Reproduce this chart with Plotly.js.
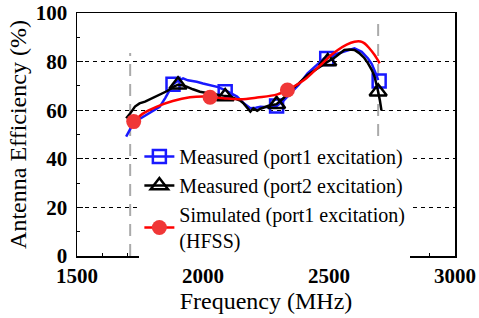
<!DOCTYPE html>
<html>
<head>
<meta charset="utf-8">
<script src="https://cdn.plot.ly/plotly-3.0.1.min.js"></script>
<style>html,body{margin:0;padding:0;background:#fff;}#chart{width:479px;height:318px;}</style>
</head>
<body>
<div id="chart"></div>
<script>
// Measured, port1 excitation (blue)
const p1Freq = [1695, 1708, 1725, 1750, 1775, 1800, 1828, 1850, 1868, 1881, 1900, 1921, 1940, 1960, 1975, 2000, 2028, 2060, 2088, 2110, 2135, 2160, 2188, 2210, 2228, 2260, 2292, 2320, 2348, 2380, 2415, 2450, 2481, 2510, 2535, 2570, 2601, 2630, 2655, 2670, 2681, 2690, 2695];
const p1Eff  = [49.1, 51.9, 54.9, 56.5, 58.0, 59.5, 61.4, 65.0, 68.3, 70.7, 72.0, 73.1, 72.3, 72.0, 71.7, 71.0, 70.4, 69.5, 68.3, 67.0, 65.6, 63.0, 60.8, 61.0, 61.4, 61.2, 61.7, 64.0, 67.0, 70.5, 75.2, 78.5, 81.3, 82.5, 83.4, 84.5, 85.5, 84.0, 81.3, 79.0, 76.5, 74.0, 72.4];
const p1MarkFreq = [1881, 2088, 2292, 2491, 2699];
const p1MarkEff  = [70.7, 67.6, 61.7, 81.3, 72.0];

// Measured, port2 excitation (black)
const p2Freq = [1695, 1710, 1730, 1748, 1770, 1790, 1815, 1840, 1860, 1880, 1901, 1915, 1935, 1960, 1988, 2010, 2030, 2055, 2080, 2108, 2130, 2150, 2161, 2175, 2188, 2200, 2215, 2228, 2245, 2260, 2292, 2320, 2348, 2380, 2415, 2450, 2495, 2520, 2540, 2561, 2580, 2601, 2620, 2640, 2655, 2670, 2681, 2690, 2695, 2702, 2708];
const p2Eff  = [56.7, 58.5, 61.5, 62.8, 63.5, 64.5, 65.6, 66.8, 68.0, 69.5, 70.5, 70.3, 69.7, 68.6, 67.6, 67.2, 66.8, 66.3, 66.0, 65.6, 64.8, 63.8, 62.8, 61.0, 59.4, 60.8, 59.8, 60.6, 61.2, 61.8, 62.5, 65.0, 68.3, 71.0, 74.5, 77.0, 80.0, 81.5, 83.0, 84.8, 85.0, 84.8, 83.5, 81.5, 79.3, 76.5, 73.8, 70.5, 67.6, 64.0, 60.0];
const p2MarkFreq = [1901, 2088, 2292, 2495, 2695];
const p2MarkEff  = [70.5, 65.6, 62.4, 80.0, 67.6];

// Simulated, port1 excitation, HFSS (red)
const simFreq = [1708, 1725, 1760, 1815, 1880, 1948, 2010, 2081, 2148, 2215, 2295, 2348, 2401, 2440, 2481, 2510, 2535, 2570, 2601, 2625, 2641, 2660, 2681, 2701];
const simEff  = [54.5, 55.3, 58.5, 61.4, 63.8, 65.3, 65.6, 64.9, 64.5, 65.2, 66.5, 69.0, 72.4, 76.0, 80.0, 82.8, 84.8, 87.0, 88.2, 88.3, 87.5, 85.5, 82.7, 79.3];
const simMarkFreq = [1725, 2028, 2335];
const simMarkEff  = [55.3, 65.3, 68.3];

// Band-edge reference lines
const bandEdgeFreq = [1711, 2695];
const bandEdgeTop  = [83.5, 95.5];

const names = ['Measured (port1 excitation)', 'Measured (port2 excitation)', 'Simulated (port1 excitation)<br>(HFSS)'];

function gapped(arr) { const out = []; arr.forEach((v, i) => { if (i) out.push(null); out.push(v); }); return out; }

const blue = 'rgb(25,25,255)', black = 'rgb(0,0,0)', red = 'rgb(255,0,0)';
const traces = [];
bandEdgeFreq.forEach((f, i) => {
  traces.push({x: [f, f], y: [0, bandEdgeTop[i]], mode: 'lines', showlegend: false, hoverinfo: 'skip',
    line: {color: 'rgb(170,170,170)', width: 2, dash: '12px,8px'}});
});
traces.push({x: p1Freq, y: p1Eff, mode: 'lines', showlegend: false, line: {color: blue, width: 2.5}});
traces.push({x: gapped(p1MarkFreq), y: gapped(p1MarkEff), mode: 'lines+markers', name: names[0], connectgaps: false,
  line: {color: blue, width: 2.5}, marker: {symbol: 'square-open', size: 13, color: blue, line: {width: 2.5, color: blue}}});
traces.push({x: p2Freq, y: p2Eff, mode: 'lines', showlegend: false, line: {color: black, width: 2.5}});
traces.push({x: gapped(p2MarkFreq), y: gapped(p2MarkEff), mode: 'lines+markers', name: names[1], connectgaps: false,
  line: {color: black, width: 2.5}, marker: {symbol: 'triangle-up-open', size: 15, color: black, line: {width: 2.5, color: black}}});
traces.push({x: simFreq, y: simEff, mode: 'lines', showlegend: false, line: {color: red, width: 2.5, shape: 'spline'}});
traces.push({x: gapped(simMarkFreq), y: gapped(simMarkEff), mode: 'lines+markers', name: names[2], connectgaps: false,
  line: {color: red, width: 2.5}, marker: {symbol: 'circle', size: 15, color: 'rgb(240,55,55)'}});

const serifFamily = 'Liberation Serif';
const layout = {
  width: 479, height: 318,
  margin: {l: 77, r: 24, t: 13, b: 62},
  paper_bgcolor: '#fff', plot_bgcolor: '#fff',
  font: {family: serifFamily, color: '#000', size: 20},
  showlegend: true,
  legend: {x: 0.165, y: 0.49, xanchor: 'left', yanchor: 'top', bgcolor: '#fff', borderwidth: 0,
    font: {family: serifFamily, size: 20, color: '#000'}, tracegroupgap: 0, itemwidth: 30},
  xaxis: {range: [1500, 3000], dtick: 500, tick0: 1500, showgrid: false, zeroline: false,
    showline: true, mirror: true, linecolor: '#000', linewidth: 1.5,
    ticks: 'inside', ticklen: 6, tickwidth: 1, tickcolor: '#000',
    minor: {dtick: 100, ticks: 'inside', ticklen: 3, tickcolor: '#000', showgrid: false},
    tickfont: {family: serifFamily, size: 21, color: '#000', weight: 'bold'},
    title: {text: 'Frequency (MHz)', font: {family: serifFamily, size: 24, color: '#000'}, standoff: 4}},
  yaxis: {range: [0, 100], dtick: 20, tick0: 0, showgrid: true, gridcolor: '#000', griddash: '4px,4px', gridwidth: 1,
    zeroline: false, showline: true, mirror: true, linecolor: '#000', linewidth: 1.5,
    ticks: 'inside', ticklen: 6, tickwidth: 1, tickcolor: '#000', ticklabelstandoff: 4,
    minor: {dtick: 10, ticks: 'inside', ticklen: 3, tickcolor: '#000', showgrid: false},
    tickfont: {family: serifFamily, size: 21, color: '#000', weight: 'bold'},
    title: {text: 'Antenna Efficiency (%)', font: {family: serifFamily, size: 24, color: '#000'}, standoff: 2}}
};
Plotly.newPlot('chart', traces, layout, {staticPlot: true, displayModeBar: false});
</script>
</body>
</html>
